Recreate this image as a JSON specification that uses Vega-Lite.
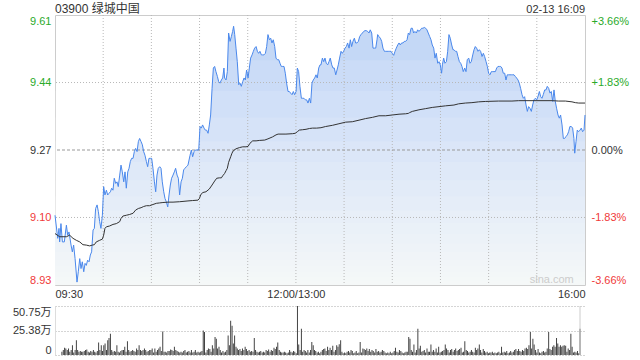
{
"$schema": "https://vega.github.io/schema/vega-lite/v6.json",
"background": "white",
"padding": {"left": 12, "top": 2, "right": 0, "bottom": 0},
"bounds": "flush",
"spacing": 21,
"config": {
  "font": "Liberation Sans, Noto Sans CJK SC, sans-serif",
  "view": {"stroke": null},
  "axis": {"labelFont": "Liberation Sans, Noto Sans CJK SC, sans-serif", "labelFontSize": 11, "ticks": false, "domain": false, "title": null, "grid": false}
},
"datasets": {
"price": [{"t":0,"p":9.106},{"t":1.7,"p":9.048},{"t":2.5,"p":9.073},{"t":2.9,"p":9.039},{"t":3.7,"p":9.085},{"t":4.6,"p":9.039},{"t":5.8,"p":9.039},{"t":7.1,"p":9.081},{"t":7.9,"p":9.056},{"t":8.7,"p":9.064},{"t":10.0,"p":9.031},{"t":10.8,"p":9.014},{"t":11.6,"p":9.031},{"t":12.5,"p":8.997},{"t":13.7,"p":8.938},{"t":14.5,"p":8.964},{"t":15.4,"p":8.997},{"t":16.2,"p":8.972},{"t":17.0,"p":8.989},{"t":17.9,"p":8.964},{"t":18.7,"p":8.985},{"t":19.5,"p":8.980},{"t":20.3,"p":8.993},{"t":21.2,"p":8.989},{"t":22.0,"p":9.006},{"t":22.8,"p":9.014},{"t":23.7,"p":9.069},{"t":24.5,"p":9.073},{"t":25.3,"p":9.123},{"t":26.2,"p":9.132},{"t":27.0,"p":9.115},{"t":27.8,"p":9.090},{"t":28.6,"p":9.073},{"t":29.5,"p":9.106},{"t":30.3,"p":9.178},{"t":31.1,"p":9.157},{"t":32.0,"p":9.169},{"t":32.8,"p":9.157},{"t":33.6,"p":9.161},{"t":34.5,"p":9.165},{"t":35.3,"p":9.174},{"t":36.1,"p":9.169},{"t":36.9,"p":9.199},{"t":37.8,"p":9.186},{"t":38.6,"p":9.190},{"t":39.4,"p":9.178},{"t":40.3,"p":9.207},{"t":41.1,"p":9.232},{"t":41.9,"p":9.215},{"t":42.8,"p":9.190},{"t":43.6,"p":9.215},{"t":44.4,"p":9.174},{"t":45.3,"p":9.215},{"t":46.1,"p":9.224},{"t":46.9,"p":9.241},{"t":47.7,"p":9.249},{"t":48.6,"p":9.249},{"t":49.4,"p":9.266},{"t":50.2,"p":9.274},{"t":51.1,"p":9.266},{"t":51.9,"p":9.291},{"t":52.7,"p":9.299},{"t":53.6,"p":9.291},{"t":54.4,"p":9.283},{"t":55.2,"p":9.266},{"t":56.0,"p":9.257},{"t":56.9,"p":9.241},{"t":57.7,"p":9.228},{"t":58.5,"p":9.249},{"t":59.4,"p":9.249},{"t":60.2,"p":9.249},{"t":61.0,"p":9.224},{"t":61.9,"p":9.190},{"t":62.7,"p":9.165},{"t":63.5,"p":9.207},{"t":64.3,"p":9.224},{"t":65.2,"p":9.228},{"t":66.0,"p":9.224},{"t":66.8,"p":9.190},{"t":67.7,"p":9.165},{"t":68.5,"p":9.148},{"t":69.3,"p":9.140},{"t":70.2,"p":9.127},{"t":71.0,"p":9.157},{"t":71.8,"p":9.182},{"t":72.6,"p":9.199},{"t":73.5,"p":9.207},{"t":74.3,"p":9.215},{"t":75.1,"p":9.224},{"t":76.0,"p":9.207},{"t":76.8,"p":9.199},{"t":77.6,"p":9.157},{"t":78.5,"p":9.190},{"t":79.3,"p":9.199},{"t":80.1,"p":9.220},{"t":80.9,"p":9.224},{"t":81.8,"p":9.228},{"t":82.8,"p":9.232},
{"t":84.1,"p":9.257},{"t":84.9,"p":9.270},{"t":85.7,"p":9.253},{"t":86.6,"p":9.266},{"t":87.4,"p":9.270},{"t":88.6,"p":9.270},{"t":89.5,"p":9.270},{"t":90.3,"p":9.329},{"t":91.1,"p":9.325},{"t":91.9,"p":9.333},{"t":92.8,"p":9.325},{"t":93.6,"p":9.320},{"t":94.4,"p":9.320},{"t":95.3,"p":9.312},{"t":96.1,"p":9.333},{"t":96.9,"p":9.358},{"t":97.8,"p":9.425},{"t":98.6,"p":9.476},{"t":99.4,"p":9.480},{"t":100.2,"p":9.467},{"t":101.1,"p":9.455},{"t":101.9,"p":9.442},{"t":102.7,"p":9.438},{"t":103.6,"p":9.446},{"t":104.4,"p":9.451},{"t":105.2,"p":9.476},{"t":105.6,"p":9.451},{"t":106.5,"p":9.446},{"t":107.3,"p":9.467},{"t":108.1,"p":9.564},{"t":109.0,"p":9.543},{"t":109.8,"p":9.555},{"t":110.6,"p":9.568},{"t":111.2,"p":9.581},{"t":111.9,"p":9.560},{"t":112.7,"p":9.526},{"t":113.5,"p":9.492},{"t":114.4,"p":9.434},{"t":115.2,"p":9.438},{"t":116.0,"p":9.430},{"t":116.9,"p":9.442},{"t":117.7,"p":9.451},{"t":118.5,"p":9.446},{"t":119.3,"p":9.471},{"t":120.2,"p":9.451},{"t":121.0,"p":9.476},{"t":121.8,"p":9.501},{"t":122.7,"p":9.509},{"t":123.5,"p":9.518},{"t":124.3,"p":9.526},{"t":125.2,"p":9.530},{"t":126.0,"p":9.518},{"t":126.8,"p":9.513},{"t":127.6,"p":9.518},{"t":128.5,"p":9.509},{"t":129.3,"p":9.509},{"t":130.1,"p":9.509},{"t":131.0,"p":9.513},{"t":131.8,"p":9.530},{"t":132.6,"p":9.560},{"t":133.5,"p":9.547},{"t":134.3,"p":9.551},{"t":135.1,"p":9.539},{"t":135.9,"p":9.547},{"t":136.8,"p":9.530},{"t":137.6,"p":9.501},{"t":138.4,"p":9.497},{"t":139.3,"p":9.497},{"t":140.1,"p":9.488},{"t":140.9,"p":9.480},{"t":141.8,"p":9.480},{"t":142.6,"p":9.480},{"t":143.4,"p":9.463},{"t":144.2,"p":9.438},{"t":145.1,"p":9.417},{"t":145.9,"p":9.417},{"t":146.7,"p":9.413},{"t":147.6,"p":9.409},{"t":148.4,"p":9.417},{"t":149.2,"p":9.409},{"t":150.1,"p":9.417},{"t":150.9,"p":9.476},{"t":151.7,"p":9.467},{"t":152.5,"p":9.430},{"t":153.4,"p":9.400},{"t":154.2,"p":9.400},{"t":155.0,"p":9.400},{"t":155.9,"p":9.396},{"t":156.7,"p":9.396},{"t":157.5,"p":9.388},{"t":158.4,"p":9.400},{"t":159.2,"p":9.388},{"t":160.0,"p":9.438},{"t":160.8,"p":9.446},{"t":161.7,"p":9.451},{"t":162.5,"p":9.459},{"t":163.3,"p":9.451},{"t":164.2,"p":9.476},{"t":165.0,"p":9.484},{"t":165.6,"p":9.484},
{"t":166.5,"p":9.501},{"t":167.3,"p":9.492},{"t":168.1,"p":9.501},{"t":168.9,"p":9.488},{"t":169.8,"p":9.484},{"t":170.6,"p":9.492},{"t":171.4,"p":9.501},{"t":172.3,"p":9.484},{"t":173.1,"p":9.476},{"t":173.9,"p":9.476},{"t":174.8,"p":9.459},{"t":175.6,"p":9.471},{"t":176.4,"p":9.484},{"t":177.2,"p":9.501},{"t":178.1,"p":9.518},{"t":178.9,"p":9.513},{"t":179.7,"p":9.518},{"t":180.6,"p":9.526},{"t":181.4,"p":9.530},{"t":182.2,"p":9.539},{"t":183.1,"p":9.526},{"t":183.9,"p":9.547},{"t":184.7,"p":9.530},{"t":185.5,"p":9.543},{"t":186.4,"p":9.551},{"t":187.2,"p":9.539},{"t":188.0,"p":9.539},{"t":188.9,"p":9.543},{"t":189.7,"p":9.555},{"t":190.5,"p":9.560},{"t":191.4,"p":9.564},{"t":192.2,"p":9.568},{"t":193.0,"p":9.570},{"t":193.8,"p":9.570},{"t":194.7,"p":9.568},{"t":195.5,"p":9.564},{"t":196.3,"p":9.572},{"t":197.2,"p":9.564},{"t":198.0,"p":9.526},{"t":198.8,"p":9.526},{"t":199.7,"p":9.526},{"t":200.5,"p":9.547},{"t":200.9,"p":9.560},{"t":201.7,"p":9.555},{"t":202.6,"p":9.551},{"t":203.4,"p":9.543},{"t":204.2,"p":9.526},{"t":205.1,"p":9.518},{"t":205.9,"p":9.518},{"t":206.7,"p":9.518},{"t":207.5,"p":9.518},{"t":208.4,"p":9.518},{"t":209.2,"p":9.518},{"t":210.0,"p":9.513},{"t":210.9,"p":9.508},{"t":211.7,"p":9.518},{"t":212.5,"p":9.526},{"t":213.4,"p":9.534},{"t":214.2,"p":9.539},{"t":215.0,"p":9.534},{"t":215.8,"p":9.539},{"t":216.7,"p":9.539},{"t":217.5,"p":9.543},{"t":218.3,"p":9.543},{"t":219.2,"p":9.547},{"t":220.0,"p":9.564},{"t":220.8,"p":9.560},{"t":221.7,"p":9.576},{"t":222.5,"p":9.576},{"t":223.3,"p":9.564},{"t":224.1,"p":9.568},{"t":225.0,"p":9.564},{"t":225.8,"p":9.572},{"t":226.6,"p":9.568},{"t":227.5,"p":9.572},{"t":228.3,"p":9.576},{"t":229.1,"p":9.576},{"t":230.0,"p":9.578},{"t":230.8,"p":9.576},{"t":231.6,"p":9.572},{"t":232.4,"p":9.564},{"t":233.3,"p":9.555},{"t":234.1,"p":9.547},{"t":234.9,"p":9.534},{"t":235.8,"p":9.526},{"t":236.6,"p":9.501},{"t":237.4,"p":9.513},{"t":238.3,"p":9.488},{"t":239.1,"p":9.492},{"t":239.9,"p":9.484},{"t":240.7,"p":9.463},{"t":241.2,"p":9.484},{"t":242.0,"p":9.501},{"t":242.8,"p":9.488},{"t":243.7,"p":9.492},{"t":244.5,"p":9.518},{"t":245.3,"p":9.560},{"t":246.1,"p":9.551},{"t":247.0,"p":9.534},{"t":247.8,"p":9.522},{"t":248.4,"p":9.522},
{"t":249.3,"p":9.518},{"t":250.1,"p":9.518},{"t":250.9,"p":9.505},{"t":251.8,"p":9.492},{"t":252.6,"p":9.488},{"t":253.4,"p":9.480},{"t":254.2,"p":9.467},{"t":255.1,"p":9.476},{"t":255.9,"p":9.467},{"t":256.7,"p":9.497},{"t":257.6,"p":9.501},{"t":258.4,"p":9.488},{"t":259.2,"p":9.492},{"t":260.1,"p":9.509},{"t":260.9,"p":9.522},{"t":261.7,"p":9.530},{"t":262.5,"p":9.526},{"t":263.4,"p":9.518},{"t":264.2,"p":9.522},{"t":265.0,"p":9.518},{"t":265.9,"p":9.505},{"t":266.7,"p":9.513},{"t":267.5,"p":9.505},{"t":268.4,"p":9.492},{"t":269.2,"p":9.480},{"t":270.0,"p":9.463},{"t":270.8,"p":9.459},{"t":271.7,"p":9.467},{"t":272.5,"p":9.467},{"t":273.3,"p":9.467},{"t":274.2,"p":9.467},{"t":275.0,"p":9.476},{"t":275.8,"p":9.480},{"t":276.7,"p":9.480},{"t":277.5,"p":9.480},{"t":278.3,"p":9.476},{"t":279.1,"p":9.463},{"t":280.0,"p":9.463},{"t":280.8,"p":9.446},{"t":281.6,"p":9.459},{"t":282.5,"p":9.459},{"t":283.3,"p":9.459},{"t":284.1,"p":9.459},{"t":285.0,"p":9.459},{"t":285.8,"p":9.459},{"t":286.6,"p":9.455},{"t":287.4,"p":9.451},{"t":288.3,"p":9.446},{"t":289.1,"p":9.438},{"t":289.9,"p":9.425},{"t":290.8,"p":9.409},{"t":291.6,"p":9.400},{"t":292.4,"p":9.404},{"t":293.3,"p":9.383},{"t":294.1,"p":9.367},{"t":294.9,"p":9.379},{"t":295.7,"p":9.375},{"t":296.6,"p":9.367},{"t":297.4,"p":9.383},{"t":298.2,"p":9.396},{"t":299.1,"p":9.400},{"t":299.9,"p":9.396},{"t":300.7,"p":9.404},{"t":301.6,"p":9.417},{"t":302.4,"p":9.404},{"t":303.2,"p":9.400},{"t":304.0,"p":9.409},{"t":304.9,"p":9.421},{"t":305.7,"p":9.421},{"t":306.5,"p":9.430},{"t":307.4,"p":9.425},{"t":308.2,"p":9.413},{"t":309.0,"p":9.417},{"t":309.9,"p":9.392},{"t":310.7,"p":9.421},{"t":311.5,"p":9.392},{"t":312.3,"p":9.375},{"t":313.2,"p":9.358},{"t":314.0,"p":9.350},{"t":314.8,"p":9.358},{"t":315.7,"p":9.333},{"t":316.5,"p":9.299},{"t":317.3,"p":9.299},{"t":318.2,"p":9.304},{"t":319.0,"p":9.308},{"t":319.8,"p":9.316},{"t":320.6,"p":9.329},{"t":321.5,"p":9.329},{"t":322.3,"p":9.325},{"t":323.1,"p":9.299},{"t":323.6,"p":9.262},{"t":324.4,"p":9.291},{"t":325.2,"p":9.320},{"t":326.0,"p":9.316},{"t":326.9,"p":9.320},{"t":327.7,"p":9.325},{"t":328.5,"p":9.316},{"t":329.4,"p":9.320},{"t":330.0,"p":9.358}],
"avg": [{"t":0,"a":9.060},{"t":2.9,"a":9.052},{"t":7.1,"a":9.052},{"t":9.1,"a":9.056},{"t":11.2,"a":9.048},{"t":13.3,"a":9.043},{"t":15.4,"a":9.039},{"t":17.4,"a":9.032},{"t":19.5,"a":9.031},{"t":21.6,"a":9.029},{"t":23.2,"a":9.031},{"t":24.5,"a":9.032},{"t":25.7,"a":9.039},{"t":27.8,"a":9.043},{"t":29.5,"a":9.046},{"t":30.3,"a":9.056},{"t":31.1,"a":9.073},{"t":32.0,"a":9.077},{"t":34.0,"a":9.079},{"t":36.1,"a":9.083},{"t":38.2,"a":9.085},{"t":40.3,"a":9.090},{"t":41.1,"a":9.098},{"t":42.3,"a":9.104},{"t":44.4,"a":9.106},{"t":46.5,"a":9.108},{"t":48.6,"a":9.111},{"t":50.2,"a":9.119},{"t":51.9,"a":9.123},{"t":53.6,"a":9.125},{"t":55.2,"a":9.128},{"t":56.9,"a":9.130},{"t":58.9,"a":9.130},{"t":61.0,"a":9.133},{"t":63.1,"a":9.136},{"t":65.2,"a":9.137},{"t":67.2,"a":9.138},{"t":70.4,"a":9.139},{"t":73.5,"a":9.139},{"t":77.6,"a":9.140},{"t":82.8,"a":9.142},{"t":85.7,"a":9.143},{"t":89.0,"a":9.144},{"t":89.9,"a":9.148},{"t":90.7,"a":9.157},{"t":91.9,"a":9.163},{"t":94.0,"a":9.165},{"t":96.1,"a":9.172},{"t":97.8,"a":9.182},{"t":99.4,"a":9.192},{"t":100.7,"a":9.199},{"t":102.3,"a":9.200},{"t":103.6,"a":9.200},{"t":104.4,"a":9.205},{"t":105.6,"a":9.211},{"t":106.5,"a":9.218},{"t":107.3,"a":9.224},{"t":108.1,"a":9.239},{"t":109.4,"a":9.253},{"t":110.2,"a":9.262},{"t":111.0,"a":9.268},{"t":112.7,"a":9.273},{"t":114.8,"a":9.276},{"t":116.9,"a":9.278},{"t":118.9,"a":9.278},{"t":120.2,"a":9.279},{"t":121.4,"a":9.287},{"t":123.1,"a":9.293},{"t":125.2,"a":9.293},{"t":127.2,"a":9.294},{"t":130.6,"a":9.295},{"t":132.6,"a":9.298},{"t":135.5,"a":9.303},{"t":137.6,"a":9.308},{"t":138.9,"a":9.310},{"t":143.8,"a":9.310},{"t":148.0,"a":9.311},{"t":149.6,"a":9.312},{"t":150.9,"a":9.316},{"t":152.1,"a":9.320},{"t":154.2,"a":9.321},{"t":156.3,"a":9.322},{"t":158.4,"a":9.324},{"t":160.4,"a":9.325},{"t":162.9,"a":9.325},{"t":165.6,"a":9.326},{"t":168.5,"a":9.329},{"t":172.7,"a":9.332},{"t":176.8,"a":9.336},{"t":181.0,"a":9.340},{"t":185.1,"a":9.341},{"t":189.3,"a":9.345},{"t":193.4,"a":9.349},{"t":197.6,"a":9.352},{"t":201.7,"a":9.356},{"t":205.9,"a":9.356},{"t":210.0,"a":9.358},{"t":214.2,"a":9.360},{"t":218.3,"a":9.361},{"t":220.0,"a":9.362},{"t":220.8,"a":9.364},{"t":222.5,"a":9.367},{"t":226.6,"a":9.371},{"t":230.8,"a":9.374},{"t":234.9,"a":9.377},{"t":239.1,"a":9.379},{"t":243.2,"a":9.381},{"t":248.4,"a":9.383},{"t":251.3,"a":9.386},{"t":255.5,"a":9.388},{"t":259.6,"a":9.389},{"t":263.8,"a":9.391},{"t":267.9,"a":9.392},{"t":276.2,"a":9.393},{"t":284.5,"a":9.393},{"t":288.7,"a":9.394},{"t":309.5,"a":9.394},{"t":313.6,"a":9.393},{"t":317.8,"a":9.393},{"t":321.9,"a":9.391},{"t":324.0,"a":9.389},{"t":326.1,"a":9.388},{"t":330.0,"a":9.388}],
"vol": [{"t":1.2,"v":3.4},{"t":2.1,"v":5.1},{"t":2.9,"v":7.4},{"t":3.7,"v":6.8},{"t":4.6,"v":5.1},{"t":5.4,"v":6.8},{"t":6.2,"v":3.4},{"t":7.1,"v":5.1},{"t":7.9,"v":10.1},{"t":8.7,"v":2.7},{"t":9.6,"v":5.1},{"t":10.4,"v":15.2},{"t":11.2,"v":5.1},{"t":12.0,"v":3.4},{"t":12.9,"v":4.1},{"t":13.7,"v":3.4},{"t":14.5,"v":3.4},{"t":15.4,"v":4.1},{"t":16.2,"v":5.1},{"t":17.0,"v":5.8},{"t":17.9,"v":3.4},{"t":18.7,"v":2.7},{"t":19.5,"v":4.1},{"t":20.3,"v":3.4},{"t":21.2,"v":5.1},{"t":22.0,"v":3.4},{"t":22.8,"v":2.7},{"t":23.7,"v":4.1},{"t":24.5,"v":12.9},{"t":25.3,"v":5.1},{"t":26.2,"v":10.1},{"t":27.0,"v":4.1},{"t":27.8,"v":10.1},{"t":28.6,"v":11.8},{"t":29.5,"v":5.1},{"t":30.3,"v":15.2},{"t":31.1,"v":17.6},{"t":32.0,"v":22.0},{"t":32.8,"v":5.1},{"t":33.6,"v":3.4},{"t":34.5,"v":4.1},{"t":35.3,"v":3.4},{"t":36.1,"v":10.1},{"t":36.9,"v":3.4},{"t":37.8,"v":2.7},{"t":38.6,"v":4.1},{"t":39.4,"v":5.1},{"t":40.3,"v":5.1},{"t":41.1,"v":8.5},{"t":41.9,"v":3.4},{"t":42.8,"v":14.2},{"t":43.6,"v":5.1},{"t":44.4,"v":3.4},{"t":45.2,"v":4.1},{"t":46.1,"v":5.1},{"t":46.9,"v":4.1},{"t":47.7,"v":3.4},{"t":48.6,"v":6.8},{"t":49.4,"v":5.1},{"t":50.2,"v":10.1},{"t":51.1,"v":5.1},{"t":51.9,"v":4.1},{"t":52.7,"v":5.1},{"t":53.6,"v":6.8},{"t":54.4,"v":5.1},{"t":55.2,"v":3.4},{"t":56.0,"v":4.1},{"t":56.9,"v":5.1},{"t":57.7,"v":5.1},{"t":58.5,"v":6.8},{"t":59.4,"v":2.7},{"t":60.2,"v":6.8},{"t":61.0,"v":3.4},{"t":61.9,"v":5.1},{"t":62.7,"v":6.8},{"t":63.5,"v":8.5},{"t":64.3,"v":4.1},{"t":65.2,"v":24.4},{"t":66.0,"v":3.4},{"t":66.8,"v":3.4},{"t":67.7,"v":2.7},{"t":68.5,"v":4.1},{"t":69.3,"v":4.1},{"t":70.2,"v":5.8},{"t":71.0,"v":5.1},{"t":71.8,"v":4.1},{"t":72.6,"v":8.5},{"t":73.5,"v":5.1},{"t":74.3,"v":4.1},{"t":75.1,"v":3.4},{"t":76.0,"v":2.7},{"t":76.8,"v":3.4},{"t":77.6,"v":2.7},{"t":78.5,"v":4.1},{"t":79.3,"v":5.1},{"t":80.1,"v":2.7},{"t":80.9,"v":3.4},{"t":81.8,"v":4.1},{"t":82.6,"v":2.7},{"t":83.4,"v":5.1},{"t":84.3,"v":2.7},{"t":85.1,"v":3.4},{"t":85.9,"v":5.1},{"t":86.8,"v":2.7},{"t":87.6,"v":3.4},{"t":88.4,"v":2.7},{"t":89.3,"v":3.4},{"t":90.1,"v":4.1},{"t":90.9,"v":25.4},{"t":91.7,"v":23.7},{"t":92.6,"v":2.7},{"t":93.4,"v":5.1},{"t":94.2,"v":6.8},{"t":95.1,"v":6.1},{"t":95.9,"v":3.4},{"t":96.7,"v":10.1},{"t":97.6,"v":6.8},{"t":98.4,"v":18.6},{"t":99.2,"v":16.9},{"t":100.0,"v":6.8},{"t":100.9,"v":8.5},{"t":101.7,"v":5.1},{"t":102.5,"v":2.7},{"t":103.4,"v":4.1},{"t":104.2,"v":2.7},{"t":105.0,"v":3.4},{"t":105.9,"v":5.1},{"t":106.7,"v":20.3},{"t":107.5,"v":10.1},{"t":108.3,"v":35.5},{"t":109.2,"v":30.4},{"t":110.0,"v":11.8},{"t":110.8,"v":20.3},{"t":111.7,"v":8.5},{"t":112.5,"v":6.8},{"t":113.3,"v":5.1},{"t":114.2,"v":6.1},{"t":115.0,"v":4.1},{"t":115.8,"v":6.8},{"t":116.7,"v":5.1},{"t":117.5,"v":8.5},{"t":118.3,"v":6.1},{"t":119.1,"v":4.1},{"t":120.0,"v":5.1},{"t":120.8,"v":3.4},{"t":121.6,"v":4.1},{"t":122.5,"v":3.4},{"t":123.3,"v":17.6},{"t":124.1,"v":5.1},{"t":125.0,"v":3.4},{"t":125.8,"v":2.7},{"t":126.6,"v":3.4},{"t":127.4,"v":4.1},{"t":128.3,"v":2.7},{"t":129.1,"v":3.4},{"t":129.9,"v":2.7},{"t":130.8,"v":5.1},{"t":131.6,"v":4.1},{"t":132.4,"v":5.8},{"t":133.3,"v":3.4},{"t":134.1,"v":5.1},{"t":134.9,"v":4.1},{"t":135.8,"v":7.4},{"t":136.6,"v":6.1},{"t":137.4,"v":8.5},{"t":138.2,"v":12.9},{"t":139.1,"v":5.1},{"t":139.9,"v":3.4},{"t":140.7,"v":2.7},{"t":141.6,"v":2.7},{"t":142.4,"v":3.4},{"t":143.2,"v":2.7},{"t":144.1,"v":1.7},{"t":144.9,"v":2.7},{"t":145.7,"v":5.1},{"t":146.5,"v":3.4},{"t":147.4,"v":2.7},{"t":148.2,"v":4.1},{"t":149.0,"v":3.4},{"t":149.9,"v":1.7},{"t":150.7,"v":50.75},{"t":151.5,"v":10.8},{"t":152.4,"v":5.1},{"t":153.2,"v":27.1},{"t":154.0,"v":3.4},{"t":154.9,"v":5.1},{"t":155.7,"v":4.1},{"t":156.5,"v":2.7},{"t":157.3,"v":5.1},{"t":158.2,"v":2.7},{"t":159.0,"v":5.1},{"t":159.8,"v":13.5},{"t":160.7,"v":10.1},{"t":161.5,"v":5.1},{"t":162.3,"v":4.1},{"t":163.2,"v":2.7},{"t":164.0,"v":3.4},{"t":164.8,"v":1.7},
{"t":165.6,"v":3.4},{"t":166.5,"v":5.1},{"t":167.3,"v":6.1},{"t":168.1,"v":6.8},{"t":168.9,"v":4.1},{"t":169.8,"v":8.5},{"t":170.6,"v":5.1},{"t":171.4,"v":7.4},{"t":172.3,"v":5.1},{"t":173.1,"v":9.5},{"t":173.9,"v":3.4},{"t":174.8,"v":5.1},{"t":175.6,"v":10.1},{"t":176.4,"v":8.5},{"t":177.2,"v":11.2},{"t":178.1,"v":15.2},{"t":178.9,"v":3.4},{"t":179.7,"v":1.7},{"t":180.6,"v":2.7},{"t":181.4,"v":1.7},{"t":182.2,"v":3.4},{"t":183.1,"v":4.1},{"t":183.9,"v":2.7},{"t":184.7,"v":5.1},{"t":185.5,"v":4.1},{"t":186.4,"v":1.7},{"t":187.2,"v":2.7},{"t":188.0,"v":4.1},{"t":188.9,"v":1.7},{"t":189.7,"v":2.7},{"t":190.5,"v":13.5},{"t":191.4,"v":2.7},{"t":192.2,"v":6.8},{"t":193.0,"v":6.1},{"t":193.8,"v":5.1},{"t":194.7,"v":6.8},{"t":195.5,"v":4.1},{"t":196.3,"v":6.1},{"t":197.2,"v":3.4},{"t":198.0,"v":5.1},{"t":198.8,"v":4.1},{"t":199.7,"v":2.7},{"t":200.5,"v":6.1},{"t":201.3,"v":3.4},{"t":202.2,"v":4.1},{"t":203.0,"v":2.7},{"t":203.8,"v":3.4},{"t":204.6,"v":5.1},{"t":205.5,"v":4.1},{"t":206.3,"v":2.7},{"t":207.1,"v":1.7},{"t":208.0,"v":2.7},{"t":208.8,"v":1.7},{"t":209.6,"v":3.4},{"t":210.5,"v":1.7},{"t":211.3,"v":2.7},{"t":212.1,"v":4.1},{"t":212.9,"v":7.4},{"t":213.8,"v":3.4},{"t":214.6,"v":2.7},{"t":215.4,"v":5.1},{"t":216.3,"v":4.1},{"t":217.1,"v":2.7},{"t":217.9,"v":1.7},{"t":218.8,"v":2.7},{"t":219.6,"v":3.4},{"t":220.4,"v":3.4},{"t":221.3,"v":18.6},{"t":222.1,"v":16.9},{"t":222.9,"v":5.1},{"t":223.7,"v":3.4},{"t":224.6,"v":10.8},{"t":225.4,"v":2.7},{"t":226.2,"v":5.1},{"t":227.1,"v":27.1},{"t":227.9,"v":6.8},{"t":228.7,"v":9.5},{"t":229.6,"v":3.4},{"t":230.4,"v":4.1},{"t":231.2,"v":5.1},{"t":232.0,"v":2.7},{"t":232.9,"v":6.8},{"t":233.7,"v":3.4},{"t":234.5,"v":3.4},{"t":235.4,"v":10.8},{"t":236.2,"v":3.4},{"t":237.0,"v":5.1},{"t":237.9,"v":3.4},{"t":238.7,"v":6.8},{"t":239.5,"v":2.7},{"t":240.3,"v":8.5},{"t":241.2,"v":2.7},{"t":242.0,"v":3.4},{"t":242.8,"v":4.1},{"t":243.7,"v":5.1},{"t":244.5,"v":10.8},{"t":245.3,"v":6.8},{"t":246.2,"v":5.1},{"t":247.0,"v":2.7},{"t":247.8,"v":5.1},{"t":248.6,"v":6.1},{"t":249.5,"v":3.4},{"t":250.3,"v":5.1},{"t":251.1,"v":6.8},{"t":252.0,"v":4.1},{"t":252.8,"v":5.1},{"t":253.6,"v":6.1},{"t":254.5,"v":7.4},{"t":255.3,"v":2.7},{"t":256.1,"v":3.4},{"t":256.9,"v":14.2},{"t":257.8,"v":5.1},{"t":258.6,"v":4.1},{"t":259.4,"v":2.7},{"t":260.3,"v":3.4},{"t":261.1,"v":5.1},{"t":261.9,"v":3.4},{"t":262.8,"v":2.7},{"t":263.6,"v":7.4},{"t":264.4,"v":5.1},{"t":265.2,"v":6.8},{"t":266.1,"v":10.8},{"t":266.9,"v":5.1},{"t":267.7,"v":2.7},{"t":268.6,"v":6.1},{"t":269.4,"v":4.1},{"t":270.2,"v":2.7},{"t":271.1,"v":3.4},{"t":271.9,"v":1.7},{"t":272.7,"v":2.7},{"t":273.5,"v":2.7},{"t":274.4,"v":3.4},{"t":275.2,"v":1.7},{"t":276.0,"v":2.7},{"t":276.9,"v":1.7},{"t":277.7,"v":2.7},{"t":278.5,"v":3.4},{"t":279.4,"v":1.7},{"t":280.2,"v":8.5},{"t":281.0,"v":2.7},{"t":281.9,"v":3.4},{"t":282.7,"v":2.7},{"t":283.5,"v":4.1},{"t":284.3,"v":1.7},{"t":285.2,"v":2.7},{"t":286.0,"v":4.1},{"t":286.8,"v":2.7},{"t":287.7,"v":3.4},{"t":288.5,"v":5.1},{"t":289.3,"v":6.1},{"t":290.2,"v":4.1},{"t":291.0,"v":6.1},{"t":291.8,"v":4.1},{"t":292.6,"v":3.4},{"t":293.5,"v":5.1},{"t":294.3,"v":4.1},{"t":295.1,"v":6.8},{"t":296.0,"v":7.4},{"t":296.8,"v":6.1},{"t":297.6,"v":10.1},{"t":298.5,"v":23.7},{"t":299.3,"v":6.8},{"t":300.1,"v":16.9},{"t":300.9,"v":10.8},{"t":301.8,"v":5.1},{"t":302.6,"v":2.7},{"t":303.4,"v":6.1},{"t":304.3,"v":2.7},{"t":305.1,"v":1.7},{"t":305.9,"v":3.4},{"t":306.8,"v":4.1},{"t":307.6,"v":2.7},{"t":308.4,"v":3.4},{"t":309.2,"v":6.8},{"t":310.1,"v":23.7},{"t":310.9,"v":6.1},{"t":311.7,"v":5.1},{"t":312.6,"v":8.5},{"t":313.4,"v":10.1},{"t":314.2,"v":8.5},{"t":315.1,"v":17.6},{"t":315.9,"v":11.8},{"t":316.7,"v":8.5},{"t":317.6,"v":10.1},{"t":318.4,"v":8.5},{"t":319.2,"v":9.5},{"t":320.0,"v":10.1},{"t":320.9,"v":9.5},{"t":321.7,"v":3.4},{"t":322.5,"v":6.8},{"t":323.4,"v":5.1},{"t":324.2,"v":22.0},{"t":325.0,"v":8.5},{"t":325.9,"v":2.7},{"t":326.7,"v":3.4},{"t":327.5,"v":2.7},{"t":328.4,"v":4.1},{"t":329.2,"v":1.7},{"t":330.0,"v":27.1}],
"fade": [{"level":9.4954},{"level":9.4188},{"level":9.3514},{"level":9.2922},{"level":9.2400},{"level":9.1942},{"level":9.1537},{"level":9.1181},{"level":9.0869},{"level":9.0595},{"level":9.0353},{"level":9.0139},{"level":8.9950},{"level":8.9786},{"level":8.9640},{"level":8.9514},{"level":8.9401}],
"vgrid": [{"t":30},{"t":60},{"t":90},{"t":120},{"t":150},{"t":180},{"t":210},{"t":240},{"t":270},{"t":300}],
"hgrid": [{"p":9.1004},{"p":9.4396}]
},
"vconcat": [
 {
  "width": 530,
  "height": 270,
  "view": {"stroke": "#cccccc"},
  "layer": [
   {
    "data": {"name": "price"},
    "mark": {"type": "area", "color": "#c4d8f6", "opacity": 1},
    "encoding": {
     "x": {"field": "t", "type": "quantitative", "scale": {"domain": [0, 330], "nice": false, "zero": false},
       "axis": {"orient": "bottom", "values": [0, 150, 330], "labelExpr": "datum.value == 0 ? '09:30' : datum.value == 150 ? '12:00/13:00' : '16:00'", "labelFlush": true, "labelPadding": 3, "labelColor": "#333333"}},
     "y": {"field": "p", "type": "quantitative", "scale": {"domain": [8.93072, 9.60928], "nice": false, "zero": false},
       "axis": {"orient": "left", "values": [8.93072, 9.1004, 9.27, 9.4396, 9.60928], "format": ".2f", "labelFlush": true, "labelPadding": 4,
         "labelColor": {"condition": [{"test": "datum.value > 9.28", "value": "#2aaa2a"}, {"test": "datum.value < 9.26", "value": "#f03a3a"}], "value": "#333333"}}},
     "y2": {"datum": 8.93072}
    }
   },
   {
    "data": {"name": "fade"},
    "mark": {"type": "rect", "color": "#ffffff", "opacity": 0.12},
    "encoding": {
     "y": {"field": "level", "type": "quantitative", "scale": {"zero": false}, "axis": null},
     "y2": {"datum": 8.93072}
    }
   },
   {
    "data": {"name": "vgrid"},
    "mark": {"type": "rule", "color": "#b8b8b8", "strokeWidth": 1, "strokeDash": [1, 2]},
    "encoding": {"x": {"field": "t", "type": "quantitative", "scale": {"zero": false}, "axis": null}}
   },
   {
    "data": {"name": "hgrid"},
    "mark": {"type": "rule", "color": "#b8b8b8", "strokeWidth": 1, "strokeDash": [1, 2]},
    "encoding": {"y": {"field": "p", "type": "quantitative", "scale": {"zero": false}, "axis": null}}
   },
   {
    "data": {"values": [{"p": 9.27}]},
    "mark": {"type": "rule", "color": "#999999", "strokeWidth": 1, "strokeDash": [3, 2]},
    "encoding": {"y": {"field": "p", "type": "quantitative", "scale": {"zero": false}, "axis": null}}
   },
   {
    "data": {"name": "price"},
    "mark": {"type": "line", "color": "#4a88ec", "strokeWidth": 1},
    "encoding": {
     "x": {"field": "t", "type": "quantitative", "scale": {"zero": false}, "axis": null},
     "y": {"field": "p", "type": "quantitative", "scale": {"zero": false},
       "axis": {"orient": "right", "values": [8.93072, 9.1004, 9.27, 9.4396, 9.60928], "labelFlush": true, "labelPadding": 6,
         "labelExpr": "datum.value > 9.28 ? '+' + format((datum.value/9.27-1)*100, '.2f') + '%' : datum.value < 9.26 ? '-' + format((1-datum.value/9.27)*100, '.2f') + '%' : '0.00%'",
         "labelColor": {"condition": [{"test": "datum.value > 9.28", "value": "#2aaa2a"}, {"test": "datum.value < 9.26", "value": "#f03a3a"}], "value": "#333333"}}}
    }
   },
   {
    "data": {"name": "avg"},
    "mark": {"type": "line", "color": "#333333", "strokeWidth": 1},
    "encoding": {
     "x": {"field": "t", "type": "quantitative", "scale": {"zero": false}, "axis": null},
     "y": {"field": "a", "type": "quantitative", "scale": {"zero": false}, "axis": null}
    }
   },
   {
    "data": {"values": [{"label": "03900 绿城中国"}]},
    "mark": {"type": "text", "align": "left", "baseline": "alphabetic", "fontSize": 12, "color": "#333333"},
    "encoding": {"x": {"datum": 0, "type": "quantitative", "axis": null}, "y": {"datum": 9.615, "type": "quantitative", "axis": null}, "text": {"field": "label"}}
   },
   {
    "data": {"values": [{"label": "02-13 16:09"}]},
    "mark": {"type": "text", "align": "right", "baseline": "alphabetic", "fontSize": 11, "color": "#333333"},
    "encoding": {"x": {"datum": 330, "type": "quantitative", "axis": null}, "y": {"datum": 9.615, "type": "quantitative", "axis": null}, "text": {"field": "label"}}
   },
   {
    "data": {"values": [{"label": "sina.com"}]},
    "mark": {"type": "text", "align": "right", "baseline": "alphabetic", "fontSize": 11, "color": "#cccccc"},
    "encoding": {"x": {"datum": 323, "type": "quantitative", "axis": null}, "y": {"datum": 8.935, "type": "quantitative", "axis": null}, "text": {"field": "label"}}
   }
  ],
  "resolve": {"axis": {"x": "independent", "y": "independent"}}
 },
 {
  "width": 530,
  "height": 49,
  "view": {"stroke": null},
  "layer": [
   {
    "data": {"name": "vol"},
    "mark": {"type": "bar", "width": 1, "color": "#444444"},
    "encoding": {
     "x": {"field": "t", "type": "quantitative", "scale": {"domain": [0, 330], "nice": false, "zero": false}, "axis": null},
     "y": {"field": "v", "type": "quantitative", "scale": {"domain": [0, 50.75], "nice": false},
       "axis": {"orient": "left", "values": [0, 25.375, 50.75], "labelExpr": "datum.value == 0 ? '0' : format(datum.value, '.2f') + '万'", "labelFlush": true, "labelPadding": 4, "labelColor": "#333333", "grid": true, "gridColor": "#aaaaaa", "gridDash": [1, 2], "domain": true, "domainColor": "#dddddd"}}
    }
   },
   {
    "data": {"values": [{"edge": "right"}]},
    "mark": {"type": "rule", "color": "#cccccc", "strokeWidth": 1},
    "encoding": {"x": {"datum": 330, "type": "quantitative"}}
   }
  ]
 }
]
}
